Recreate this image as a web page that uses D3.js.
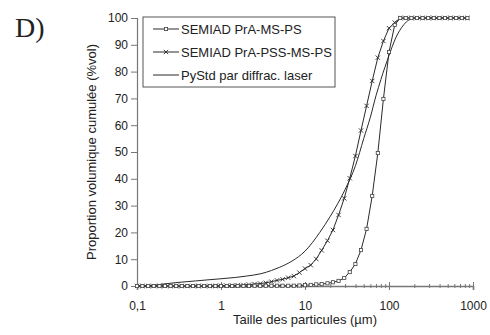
<!DOCTYPE html>
<html>
<head>
<meta charset="utf-8">
<script src="https://cdn.jsdelivr.net/npm/d3@7"></script>
<style>
  body { margin: 0; background: #fff; }
  svg text { font-family: "Liberation Sans", Arial, sans-serif; fill: #222; }
</style>
</head>
<body>
<div id="chart"></div>
<script>
// particle sizes (µm) shared by both SEMIAD series
const sizes = [0.1, 0.116, 0.136, 0.158, 0.185, 0.215, 0.251, 0.293, 0.341, 0.398,
  0.464, 0.541, 0.631, 0.736, 0.858, 1, 1.17, 1.36, 1.58, 1.85,
  2.15, 2.51, 2.93, 3.41, 3.98, 4.64, 5.41, 6.31, 7.36, 8.58,
  10, 11.7, 13.6, 15.8, 18.5, 21.5, 25.1, 29.3, 34.1, 39.8,
  46.4, 54.1, 63.1, 73.6, 85.8, 100, 117, 136, 158, 185,
  215, 251, 293, 341, 398, 464, 541, 631, 736, 858];

const semiadPrA = [0, 0, 0, 0, 0, 0, 0, 0, 0, 0,
  0, 0, 0, 0, 0, 0, 0, 0, 0, 0,
  0, 0.1, 0.1, 0.1, 0.1, 0.1, 0.1, 0.1, 0.1, 0.2,
  0.3, 0.4, 0.6, 0.7, 1.0, 1.4, 1.9, 3.0, 5.2, 8.2,
  13.4, 21.3, 33.6, 49.6, 69.8, 87.3, 97.4, 100, 100, 100,
  100, 100, 100, 100, 100, 100, 100, 100, 100, 100];

const semiadPSS = [0, 0, 0, 0, 0, 0, 0, 0, 0, 0,
  0, 0, 0, 0, 0, 0.1, 0.15, 0.2, 0.3, 0.4,
  0.5, 0.7, 0.9, 1.2, 1.6, 2.1, 2.5, 3.1, 3.7, 5.0,
  6.5, 7.8, 10.1, 13.3, 16.9, 20.9, 26.5, 32.7, 40.2, 48.5,
  58, 67.2, 76.5, 85.2, 91.4, 96.2, 98.3, 100, 100, 100,
  100, 100, 100, 100, 100, 100, 100, 100, 100, 100];

// laser diffraction reference curve
const laserSizes = [0.1, 0.15, 0.2, 0.3, 0.5, 0.7, 1, 1.5, 2, 3, 4, 5, 7, 10, 15, 20,
  30, 40, 50, 60, 70, 80, 100, 120, 150, 200, 300, 500, 858];
const laserValues = [0, 0.2, 0.7, 1.3, 1.9, 2.3, 2.7, 3.2, 3.7, 4.6, 5.8, 7.0, 9.3, 13, 20, 26,
  36, 45, 55, 63, 71, 77, 86, 92.5, 97.5, 100, 100, 100, 100];

const seriesNames = ["SEMIAD PrA-MS-PS", "SEMIAD PrA-PSS-MS-PS", "PyStd par diffrac. laser"];
const yTicks = [0, 10, 20, 30, 40, 50, 60, 70, 80, 90, 100];
const xMajor = [0.1, 1, 10, 100, 1000];

const W = 490, H = 335;
const svg = d3.select("#chart").append("svg")
  .attr("width", W).attr("height", H);

const x = d3.scaleLog().domain([0.1, 1000]).range([137, 473]);
const y = d3.scaleLinear().domain([0, 100]).range([286, 18]);

const axisColor = "#777";
const lineColor = "#2a2a2a";

// Y axis
const yAxis = svg.append("g")
  .attr("transform", `translate(${x(0.1)},0)`)
  .call(d3.axisLeft(y).tickValues(yTicks).tickSize(6).tickPadding(3));
yAxis.select(".domain").attr("stroke", axisColor).attr("stroke-width", 1.2);
yAxis.selectAll(".tick line").attr("stroke", axisColor);
yAxis.selectAll("text").style("font-size", "12px").attr("fill", "#222");

// X axis: minor ticks then major ticks, both crossing the axis line
const minor = x.ticks().filter(v => !xMajor.includes(v));
const xMinor = svg.append("g")
  .attr("transform", `translate(0,${y(0)})`)
  .call(d3.axisBottom(x).tickValues(minor).tickSize(2).tickFormat(""));
xMinor.select(".domain").remove();
xMinor.selectAll(".tick line").attr("y1", -2).attr("stroke", axisColor);

const xAxis = svg.append("g")
  .attr("transform", `translate(0,${y(0)})`)
  .call(d3.axisBottom(x).tickValues(xMajor).tickSize(4).tickPadding(11)
    .tickFormat(d => String(d).replace(".", ",")));
xAxis.select(".domain").attr("stroke", axisColor).attr("stroke-width", 1.6);
xAxis.selectAll(".tick line").attr("y1", -4).attr("stroke", axisColor);
xAxis.selectAll("text").style("font-size", "12px").attr("fill", "#222");

// Curves
const line = d3.line().x(d => x(d[0])).y(d => y(d[1]));
const prA = sizes.map((s, i) => [s, semiadPrA[i]]);
const pss = sizes.map((s, i) => [s, semiadPSS[i]]);
const laser = laserSizes.map((s, i) => [s, laserValues[i]]);

svg.append("path").datum(laser)
  .attr("fill", "none").attr("stroke", lineColor).attr("stroke-width", 1)
  .attr("d", line.curve(d3.curveMonotoneX));

const plain = d3.line().x(d => x(d[0])).y(d => y(d[1]));
svg.append("path").datum(pss)
  .attr("fill", "none").attr("stroke", lineColor).attr("stroke-width", 1)
  .attr("d", plain);
svg.append("path").datum(prA)
  .attr("fill", "none").attr("stroke", lineColor).attr("stroke-width", 1)
  .attr("d", plain);

// cross markers
const cross = d3.symbol().type(d3.symbolX).size(14);
svg.append("g").selectAll("path")
  .data(pss).join("path")
  .attr("transform", d => `translate(${x(d[0])},${y(d[1])})`)
  .attr("d", cross)
  .attr("fill", "none").attr("stroke", lineColor).attr("stroke-width", 0.9);

// square markers
svg.append("g").selectAll("rect")
  .data(prA).join("rect")
  .attr("x", d => x(d[0]) - 1.6).attr("y", d => y(d[1]) - 1.6)
  .attr("width", 3.2).attr("height", 3.2)
  .attr("fill", "#fff").attr("stroke", "#444").attr("stroke-width", 0.8);

// Legend
const legend = svg.append("g").attr("transform", "translate(143,17)");
legend.append("rect")
  .attr("width", 192).attr("height", 70)
  .attr("fill", "#fff").attr("stroke", "#555").attr("stroke-width", 1);

seriesNames.forEach((name, i) => {
  const ly = 12 + i * 23;
  const item = legend.append("g").attr("transform", `translate(0,${ly})`);
  item.append("line")
    .attr("x1", 10).attr("x2", 36).attr("y1", 0).attr("y2", 0)
    .attr("stroke", lineColor).attr("stroke-width", 1);
  if (i === 0) {
    item.append("rect").attr("x", 21.4).attr("y", -1.6)
      .attr("width", 3.2).attr("height", 3.2)
      .attr("fill", "#fff").attr("stroke", "#444").attr("stroke-width", 0.8);
  } else if (i === 1) {
    item.append("path").attr("transform", "translate(23,0)")
      .attr("d", cross).attr("fill", "none")
      .attr("stroke", lineColor).attr("stroke-width", 0.9);
  }
  item.append("text")
    .attr("x", 38).attr("y", 0).attr("dy", "0.35em")
    .style("font-size", "13px")
    .text(name);
});

// Axis titles
svg.append("text")
  .attr("x", (x(0.1) + x(1000)) / 2).attr("y", 324)
  .attr("text-anchor", "middle")
  .style("font-size", "13px")
  .text("Taille des particules (µm)");

svg.append("text")
  .attr("transform", `translate(96,${(y(0) + y(100)) / 2}) rotate(-90)`)
  .attr("text-anchor", "middle")
  .style("font-size", "13px")
  .text("Proportion volumique cumulée (%vol)");

// Panel label
svg.append("text")
  .attr("x", 15).attr("y", 37)
  .style("font-family", "'Liberation Serif', 'Times New Roman', serif")
  .style("font-size", "28px")
  .text("D)");
</script>
</body>
</html>
